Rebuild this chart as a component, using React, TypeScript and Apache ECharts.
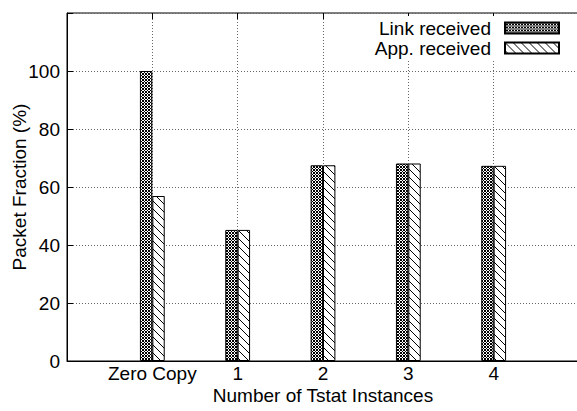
import React, { useEffect, useRef } from 'react';
import * as echarts from 'echarts';

const categories = ['Zero Copy', '1', '2', '3', '4'];
const categoryPositions = [0, 1, 2, 3, 4];
const linkReceived = [100, 45.2, 67.5, 68.1, 67.3];
const appReceived = [56.9, 45.2, 67.5, 68.1, 67.3];
const seriesNames = ['Link received', 'App. received'];
const yLabelMax = 100;

function makeTile(size: number, isBlack: (x: number, y: number) => boolean): string {
  const c = document.createElement('canvas');
  c.width = size;
  c.height = size;
  const ctx = c.getContext('2d')!;
  ctx.fillStyle = '#fff';
  ctx.fillRect(0, 0, size, size);
  ctx.fillStyle = '#000';
  for (let y = 0; y < size; y++) {
    for (let x = 0; x < size; x++) {
      if (isBlack(x, y)) ctx.fillRect(x, y, 1, 1);
    }
  }
  return c.toDataURL();
}

export default function App() {
  const ref = useRef<HTMLDivElement>(null);
  useEffect(() => {
    if (!ref.current) return;
    const chart = echarts.init(ref.current, undefined, { renderer: 'svg' });
    const checker = makeTile(3, (x, y) => (x + y) % 3 === 0 || (x - y + 3) % 3 === 0);
    const hatch = makeTile(8, (x, y) => (x - y + 8) % 8 === 0);
    const font = 'Liberation Sans';
    const gridLine = () => ({ show: true, lineStyle: { color: '#666', type: [1, 2], width: 1 } });
    chart.setOption({
      animation: false,
      backgroundColor: '#fff',
      textStyle: { fontFamily: font, color: '#000' },
      grid: {
        left: 67, right: -2, top: 13, bottom: 50,
        outerBoundsMode: 'none', containLabel: false,
        show: true, borderColor: '#000', borderWidth: 1, backgroundColor: 'transparent',
      },
      legend: {
        orient: 'vertical',
        right: 12,
        top: 16,
        align: 'right',
        icon: 'rect',
        itemWidth: 54,
        itemHeight: 11,
        itemGap: 0,
        padding: [2, 5, 2, 5],
        backgroundColor: '#fff',
        textStyle: { fontFamily: font, fontSize: 19, color: '#000', lineHeight: 20, padding: [0, 9, 0, 0] },
        data: seriesNames,
      },
      xAxis: [
        {
          type: 'value',
          min: -1,
          max: 5,
          interval: 1,
          name: 'Number of Tstat Instances',
          nameLocation: 'middle',
          nameGap: 25,
          nameMoveOverlap: false,
          nameTextStyle: { fontFamily: font, fontSize: 19, color: '#000' },
          axisLine: { show: true, onZero: false, lineStyle: { color: '#000', width: 1 } },
          axisTick: { show: true, inside: true, length: 6, lineStyle: { color: '#000' } },
          axisLabel: {
            fontFamily: font, fontSize: 19, color: '#000', margin: 3,
            formatter: (v: number) => {
              const i = categoryPositions.indexOf(v);
              return i >= 0 ? categories[i] : '';
            },
          },
          splitLine: gridLine(),
        },
        {
          type: 'value',
          position: 'top',
          min: -1,
          max: 5,
          interval: 1,
          axisLine: { show: false, onZero: false },
          axisTick: { show: true, inside: true, length: 6, lineStyle: { color: '#000' } },
          axisLabel: { show: false },
          splitLine: { show: false },
        },
      ],
      yAxis: {
        type: 'value',
        min: 0,
        max: 120,
        interval: 20,
        name: 'Packet Fraction (%)',
        nameLocation: 'middle',
        nameGap: 38,
        nameMoveOverlap: false,
        nameTextStyle: { fontFamily: font, fontSize: 19, color: '#000' },
        axisLine: { show: true, onZero: false, lineStyle: { color: '#000', width: 1 } },
        axisTick: { show: true, inside: true, length: 6, lineStyle: { color: '#000' } },
        axisLabel: {
          fontFamily: font, fontSize: 19, color: '#000', margin: 7,
          formatter: (v: number) => (v > yLabelMax ? '' : String(v)),
        },
        splitLine: gridLine(),
      },
      series: [
        {
          name: seriesNames[0],
          type: 'bar',
          barWidth: 12.4,
          barGap: '0%',
          itemStyle: { color: { image: checker, repeat: 'repeat' } as any, borderColor: '#000', borderWidth: 1 },
          data: linkReceived.map((v, i) => [categoryPositions[i], v]),
        },
        {
          name: seriesNames[1],
          type: 'bar',
          barWidth: 12.4,
          barGap: '0%',
          itemStyle: { color: { image: hatch, repeat: 'repeat' } as any, borderColor: '#000', borderWidth: 1 },
          data: appReceived.map((v, i) => [categoryPositions[i], v]),
        },
      ],
    });
    return () => chart.dispose();
  }, []);
  return <div ref={ref} style={{ width: 577, height: 411, position: 'absolute', left: 0, top: 0 }} />;
}
